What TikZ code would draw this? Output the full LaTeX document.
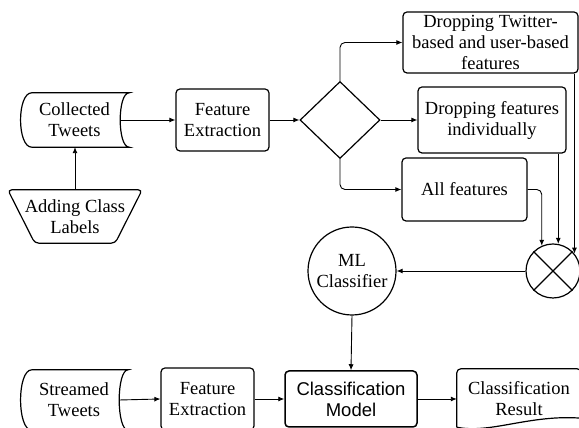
\documentclass[tikz,border=0pt]{standalone}
\usepackage{fontspec}
\setmainfont{Liberation Serif}
\newfontfamily\arialfont{Liberation Sans}
\usetikzlibrary{shapes.geometric,arrows.meta}
\begin{document}
\begin{tikzpicture}[x=1pt,y=1pt,
  font=\fontsize{18.5}{21}\selectfont,
  box/.style={draw, line width=1.2pt, rounded corners=4pt, align=center, inner sep=0pt},
  plain/.style={inner sep=0pt, align=center},
  shp/.style={line width=1.2pt},
  arr/.style={line width=0.9pt, -{Latex[length=6pt,width=5pt]}},
  ring/.style={draw, circle, line width=1.2pt, inner sep=0pt, align=center},
]
\useasboundingbox (0,0) rectangle (579,428);
\begin{scope}
\clip (0,0) rectangle (579,428);
% nodes
\node[plain, minimum width=109pt, minimum height=54pt] (ct) at (74.5,308) {Collected\\Tweets};
\node[box, minimum width=93pt, minimum height=62pt] (fe1) at (222.5,308) {Feature\\Extraction};
\node[plain, minimum width=134pt, minimum height=53pt] (acl) at (75,211.5) {Adding Class\\Labels};
\node[draw, shape=diamond, line width=1.2pt, minimum width=80pt, minimum height=77pt, inner sep=0pt] (dia) at (340,308) {};
\node[box, minimum width=175pt, minimum height=61pt] (tb) at (490.5,385.5) {Dropping Twitter-\\based and user-based\\features};
\node[box, minimum width=148pt, minimum height=66pt] (mb) at (492,308) {Dropping features\\individually};
\node[box, minimum width=125pt, minimum height=63pt] (af) at (464.5,238.5) {All features};
\node[ring, minimum size=54pt] (xc) at (553,157) {};
\node[ring, minimum size=88pt] (ml) at (352,157) {ML\\Classifier};
\node[plain, minimum width=108pt, minimum height=60pt] (st) at (74,28) {Streamed\\Tweets};
\node[box, minimum width=93pt, minimum height=62pt] (fe2) at (207.5,29) {Feature\\Extraction};
\node[box, line width=1.5pt, minimum width=132pt, minimum height=56pt, font=\arialfont\fontsize{18.5}{21}\selectfont] (cm) at (351,29) {Classification\\Model};
\node[plain, minimum width=124pt, minimum height=60pt] (cr) at (519,29) {Classification\\Result};
% custom shapes
\foreach \n in {ct,st} {
  \draw[shp] ([xshift=12pt]\n.north west) -- (\n.north east)
    .. controls ([xshift=-12pt]\n.north east) and ([xshift=-12pt]\n.south east) .. (\n.south east)
    -- ([xshift=12pt]\n.south west)
    .. controls ([xshift=-3pt]\n.south west) and ([xshift=-3pt]\n.north west) .. cycle;
}
\draw[shp, rounded corners=4pt] (acl.north west) -- (acl.north east) -- ([xshift=-27pt]acl.south east) -- ([xshift=27pt]acl.south west) -- cycle;
\draw[shp] ([yshift=2pt]cr.south west) [rounded corners=4pt] -- (cr.north west) -- (cr.north east) [sharp corners] -- ([yshift=11pt]cr.south east)
  .. controls ([xshift=73pt,yshift=15pt]cr.south west) and ([xshift=33pt,yshift=-5pt]cr.south west) .. ([yshift=2pt]cr.south west);
\draw[line width=1.2pt] (xc.45) -- (xc.225) (xc.135) -- (xc.315);
% connectors
\draw[arr] ([xshift=-9pt]ct.east) -- (fe1.west);
\draw[arr] (acl.north) -- (acl.north |- ct.south);
\draw[arr] (fe1.east) -- (dia.west);
\draw[arr, rounded corners=5pt] (dia.north) |- (tb.west);
\draw[arr] (dia.east) -- (mb.west);
\draw[arr, rounded corners=5pt] (dia.south) |- (af.west);
\draw[arr, rounded corners=5pt] (af.east) -| (xc.114);
\draw[arr] (mb.south -| xc.79) -- (xc.79);
\draw[arr] (tb.south -| xc.39) -- (xc.39);
\draw[arr] (xc.west) -- (ml.east);
\draw[arr] (ml.south) -- (cm.north);
\draw[arr] ([xshift=-9pt]st.east) -- (fe2.west);
\draw[arr] (fe2.east) -- (cm.west);
\draw[arr] (cm.east) -- (cr.west);
\end{scope}
\end{tikzpicture}
\end{document}
